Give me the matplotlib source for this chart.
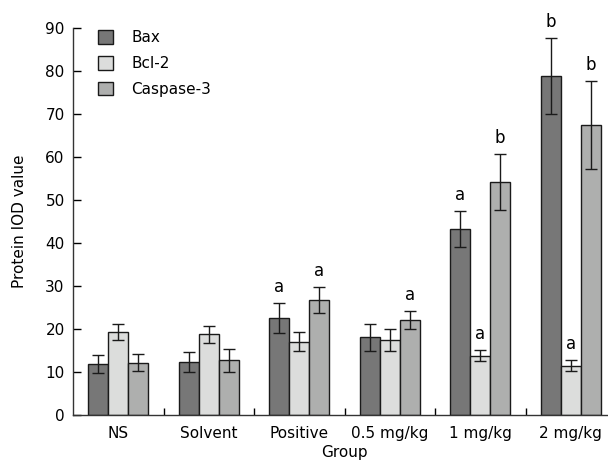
import matplotlib
matplotlib.use("Agg")
import matplotlib.pyplot as plt
import numpy as np

groups = ["NS", "Solvent", "Positive", "0.5 mg/kg", "1 mg/kg", "2 mg/kg"]
series = ["Bax", "Bcl-2", "Caspase-3"]
bax = [11.8, 12.3, 22.6, 18.1, 43.3, 78.8]
bax_err = [2.1, 2.3, 3.5, 3.1, 4.2, 8.8]
bcl2 = [19.3, 18.8, 17.0, 17.4, 13.8, 11.5]
bcl2_err = [1.9, 2.0, 2.2, 2.5, 1.3, 1.3]
casp = [12.2, 12.7, 26.8, 22.1, 54.2, 67.4]
casp_err = [2.0, 2.6, 3.0, 2.0, 6.6, 10.3]
bax_sig = ["", "", "a", "", "a", "b"]
bcl2_sig = ["", "", "", "", "a", "a"]
casp_sig = ["", "", "a", "a", "b", "b"]
yticks = [0, 10, 20, 30, 40, 50, 60, 70, 80, 90]

colors = ["#777777", "#dcdddc", "#aeafae"]
plt.rcParams['font.family'] = ['DejaVu Sans']
fig = plt.figure(figsize=6.08 * np.array([1, 462 / 608]), dpi=100)
W, H = 608, 462
left, right, bottom, top = 73, 616, 415, 28
ax = fig.add_axes([left / W, 1 - bottom / H, (right - left) / W, (bottom - top) / H])

x = np.arange(len(groups))
bw = 0.22
data = [(bax, bax_err, bax_sig), (bcl2, bcl2_err, bcl2_sig), (casp, casp_err, casp_sig)]
for i, (vals, errs, sig) in enumerate(data):
    pos = x + (i - 1) * bw
    ax.bar(pos, vals, width=bw, color=colors[i], edgecolor="#1a1a1a", linewidth=1.0,
           label=series[i], zorder=2)
    ax.errorbar(pos, vals, yerr=errs, fmt="none", ecolor="#1a1a1a", elinewidth=1.0,
                capsize=4, capthick=1.0, zorder=3)
    for p, v, e, s in zip(pos, vals, errs, sig):
        if s:
            ax.annotate(s, (p, v + e), xytext=(0, 5), textcoords="offset points",
                        ha="center", va="bottom", fontsize=12)

ax.set_xlim(-0.5, len(groups) - 0.5)
ax.set_ylim(0, 90)
ax.set_yticks(yticks)
ax.set_xticks(x)
ax.set_xticklabels(groups, fontsize=11)
ax.set_xticks(np.arange(0.5, len(groups) - 0.5, 1), minor=True)
ax.tick_params(axis="x", which="major", length=0, pad=8)
ax.tick_params(axis="x", which="minor", direction="in", length=5, width=1)
ax.tick_params(axis="y", direction="in", length=6, width=1, labelsize=11, pad=6)
for s in ["top", "right"]:
    ax.spines[s].set_visible(False)
for s in ["left", "bottom"]:
    ax.spines[s].set_linewidth(1.0)
    ax.spines[s].set_color("#333333")
ax.set_ylabel("Protein IOD value", fontsize=11, labelpad=13)
ax.set_xlabel("Group", fontsize=11, labelpad=3)
leg = ax.legend(loc="upper left", bbox_to_anchor=(0.02, 1.03), frameon=False, fontsize=11,
                handlelength=1.0, handleheight=1.0, handletextpad=1.2, labelspacing=0.7)
fig.savefig("out.png", dpi=100)
